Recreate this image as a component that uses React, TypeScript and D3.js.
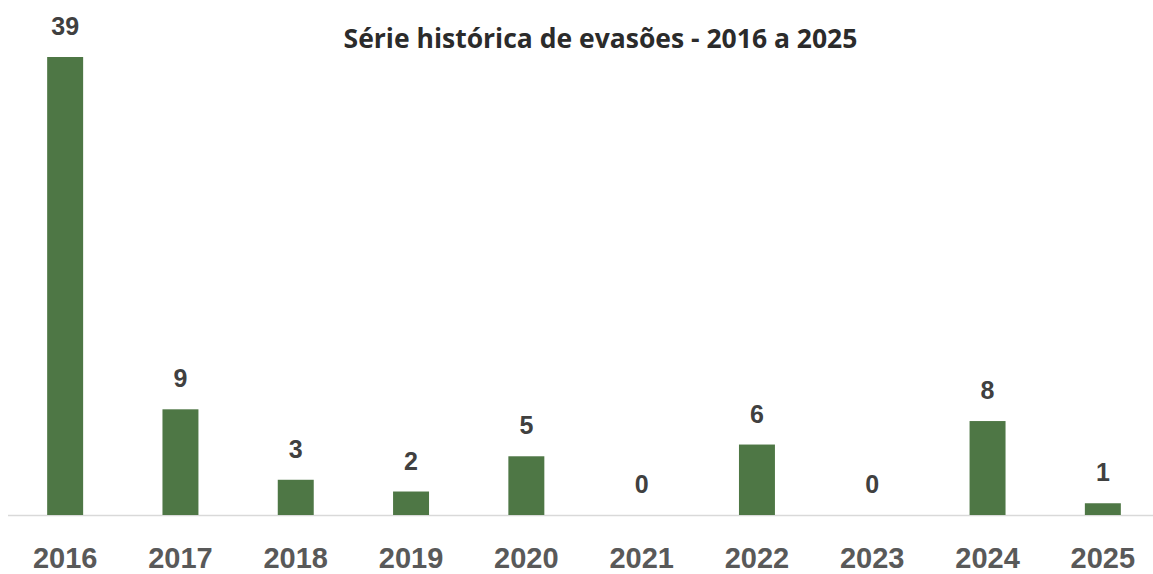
import React from "react";
import * as d3 from "d3";

const width = 1153;
const height = 574;

const years = ["2016", "2017", "2018", "2019", "2020", "2021", "2022", "2023", "2024", "2025"];
const evasoes = [39, 9, 3, 2, 5, 0, 6, 0, 8, 1];
const title = "Série histórica de evasões - 2016 a 2025";

const baseline = 515;

export default function App() {
  const x = d3
    .scaleBand<string>()
    .domain(years)
    .range([7.5, 1160.5])
    .paddingInner(0.688)
    .paddingOuter(0.344);
  const y = d3.scaleLinear().domain([0, 39]).range([baseline, 57]);

  return (
    <svg
      width={width}
      height={height}
      style={{ position: "absolute", left: 0, top: 0, background: "#fff" }}
    >
      <text
        x={600.5}
        y={48}
        textAnchor="middle"
        fontFamily="'Open Sans', sans-serif"
        fontWeight={700}
        fontSize={26.5}
        fill="#2b2b2b"
      >
        {title}
      </text>
      <line x1={8} x2={width} y1={baseline + 0.5} y2={baseline + 0.5} stroke="#d9d9d9" strokeWidth={1.5} />
      {years.map((yr, i) => {
        const v = evasoes[i];
        const bx = x(yr)!;
        const cx = bx + x.bandwidth() / 2;
        return (
          <g key={yr}>
            {v > 0 && (
              <rect x={bx} y={y(v)} width={x.bandwidth()} height={baseline - y(v)} fill="#4e7745" />
            )}
            <text
              x={cx}
              y={y(v) - 22}
              textAnchor="middle"
              fontFamily="'Liberation Sans', Arial, sans-serif"
              fontWeight={700}
              fontSize={25}
              fill="#404040"
            >
              {v}
            </text>
            <text
              x={cx}
              y={568}
              textAnchor="middle"
              fontFamily="'Liberation Sans', Arial, sans-serif"
              fontWeight={700}
              fontSize={29}
              fill="#595959"
            >
              {yr}
            </text>
          </g>
        );
      })}
    </svg>
  );
}
